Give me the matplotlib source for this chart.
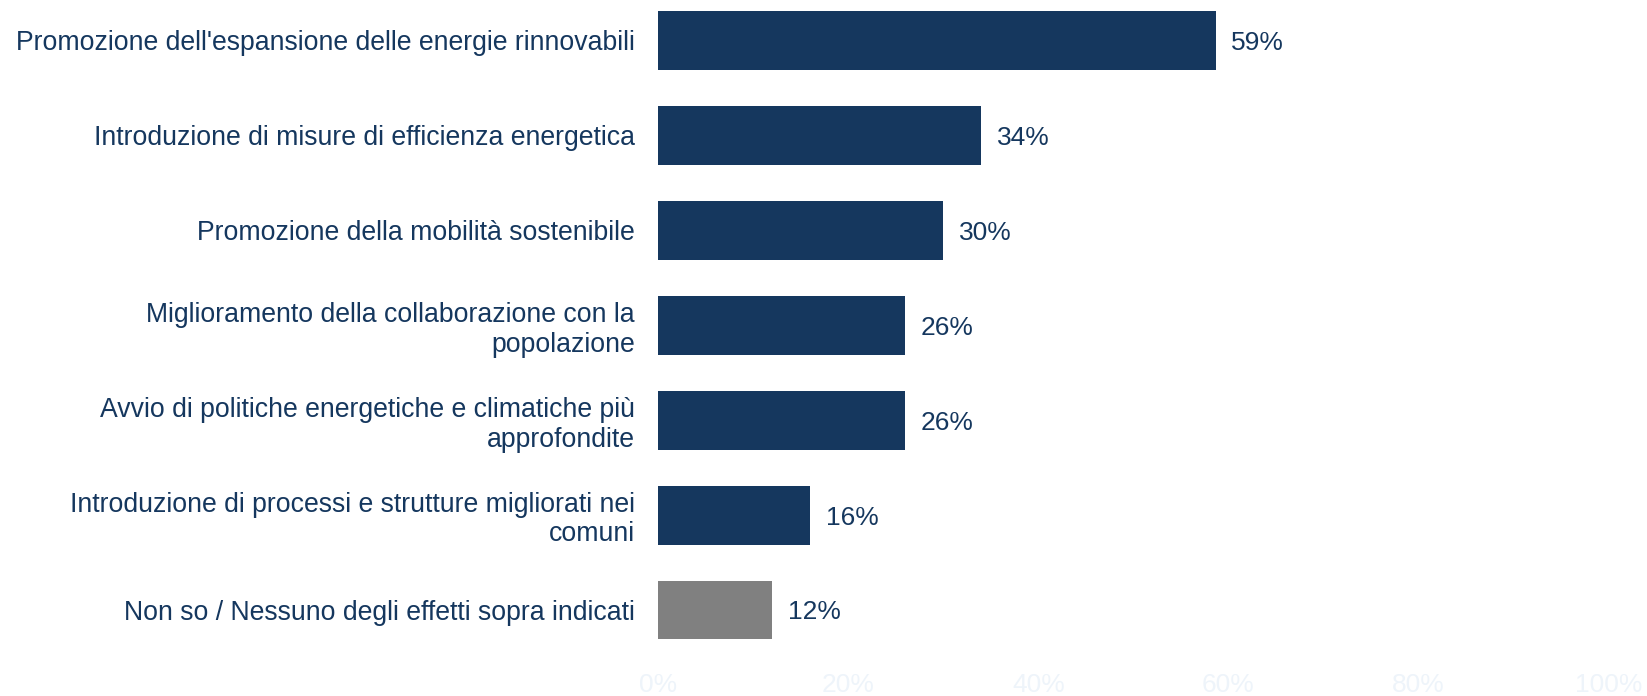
import matplotlib.pyplot as plt

categories = [
    "Promozione dell'espansione delle energie rinnovabili",
    "Introduzione di misure di efficienza energetica",
    "Promozione della mobilità sostenibile",
    "Miglioramento della collaborazione con la\npopolazione",
    "Avvio di politiche energetiche e climatiche più\napprofondite",
    "Introduzione di processi e strutture migliorati nei\ncomuni",
    "Non so / Nessuno degli effetti sopra indicati",
]
values = [58.7, 34, 30, 26, 26, 16, 12]
bar_colors = ["#15375e"] * 6 + ["#808080"]
xticks = [0, 20, 40, 60, 80, 100]
xticklabels = ["0%", "20%", "40%", "60%", "80%", "100%"]

navy = "#15375e"
plt.rcParams["font.family"] = ["Liberation Sans", "DejaVu Sans"]

fig = plt.figure(figsize=(16.47, 6.96), dpi=100)
ax = fig.add_axes([0.3998, 0.0431, 0.5768, 0.957])

ypos = list(range(len(categories)))
ax.barh(ypos, values, height=0.62, color=bar_colors)

for y, v in zip(ypos, values):
    ax.annotate(f"{v:.0f}%", xy=(v, y), xytext=(11, 0), textcoords="offset points",
                ha="left", va="center_baseline", fontsize=19, color=navy)

ax.set_ylim(6.59, -0.427)
ax.set_xlim(0, 100)
ax.set_yticks(ypos)
ax.set_yticklabels(categories, fontsize=19.2, color=navy, linespacing=1.17)
ax.set_xticks(xticks)
ax.set_xticklabels(xticklabels, fontsize=19, color="#eef4fa")
ax.tick_params(axis="both", length=0)
ax.tick_params(axis="y", pad=17)
ax.tick_params(axis="x", pad=5)
for s in ax.spines.values():
    s.set_visible(False)

fig.savefig("out.png", dpi=100)
